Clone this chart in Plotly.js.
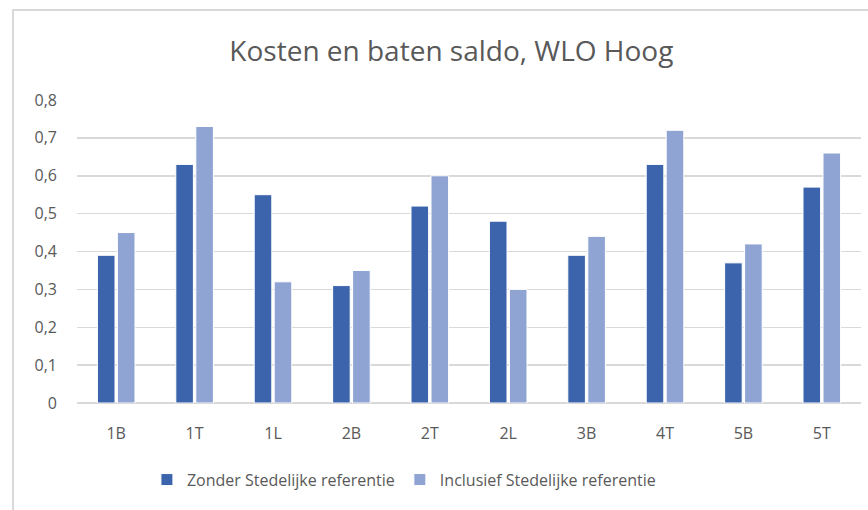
<!DOCTYPE html>
<html>
<head>
<meta charset="utf-8">
<script src="https://cdn.plot.ly/plotly-3.0.1.min.js"></script>
<style>
  html, body { margin: 0; padding: 0; background: #fff; }
  #chart { width: 868px; height: 510px; }
</style>
</head>
<body>
<div id="chart"></div>
<script>
// Kosten en baten saldo per variant
const categories = ['1B', '1T', '1L', '2B', '2T', '2L', '3B', '4T', '5B', '5T'];
const zonderStedelijk = [0.39, 0.63, 0.55, 0.31, 0.52, 0.48, 0.39, 0.63, 0.37, 0.57];
const inclusiefStedelijk = [0.45, 0.73, 0.32, 0.35, 0.60, 0.30, 0.44, 0.72, 0.42, 0.66];
const yTicks = [0, 0.1, 0.2, 0.3, 0.4, 0.5, 0.6, 0.7, 0.8];

const textColor = '#595959';
const fontFamily = '"Open Sans", "Noto Sans", sans-serif';

const traces = [
    {
        x: categories,
        y: zonderStedelijk,
        type: 'bar',
        name: 'Zonder Stedelijke referentie',
        marker: {color: '#3c64ad', line: {color: '#ffffff', width: 1}}
    },
    {
        x: categories,
        y: inclusiefStedelijk,
        type: 'bar',
        name: 'Inclusief Stedelijke referentie',
        marker: {color: '#90a4d4', line: {color: '#ffffff', width: 1}}
    }
];

const layout = {
    width: 868,
    height: 510,
    margin: {l: 77, r: 7, t: 100, b: 107},
    paper_bgcolor: '#ffffff',
    plot_bgcolor: '#ffffff',
    separators: ', ',
    font: {family: fontFamily, color: textColor, size: 15},
    title: {
        text: 'Kosten en baten saldo, WLO Hoog',
        font: {size: 28, color: textColor, family: fontFamily},
        x: 0.52,
        xanchor: 'center',
        y: 0.9,
        yanchor: 'middle'
    },
    barmode: 'group',
    bargap: 0.49,
    bargroupgap: 0.12,
    xaxis: {
        showgrid: false,
        showline: false,
        ticks: '',
        tickfont: {size: 16, color: textColor},
        ticklabelstandoff: 19,
        fixedrange: true
    },
    yaxis: {
        range: [0, 0.8],
        tickvals: yTicks,
        showgrid: true,
        gridcolor: '#d9d9d9',
        gridwidth: 1.5,
        zeroline: true,
        zerolinecolor: '#d9d9d9',
        zerolinewidth: 1.5,
        showline: false,
        ticks: '',
        tickfont: {size: 16, color: textColor},
        ticklabelstandoff: 19,
        fixedrange: true
    },
    showlegend: true,
    legend: {
        orientation: 'h',
        x: 0.417,
        xanchor: 'center',
        y: -0.253,
        yanchor: 'middle',
        font: {size: 16, color: textColor},
        itemwidth: 30,
        traceorder: 'normal'
    },
    shapes: [
        // chart border
        {
            type: 'rect',
            xref: 'paper', yref: 'paper',
            x0: -0.0816, x1: 1.2, y0: -0.6, y1: 1.297,
            line: {color: '#d9d9d9', width: 2},
            fillcolor: 'rgba(0,0,0,0)',
            layer: 'below'
        }
    ]
};

Plotly.newPlot('chart', traces, layout, {displayModeBar: false, staticPlot: true});
</script>
</body>
</html>
